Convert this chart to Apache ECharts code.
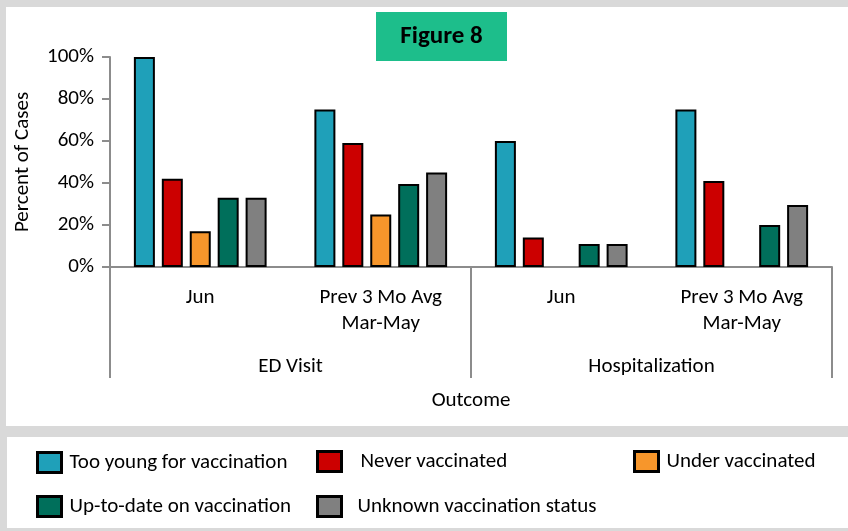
<!DOCTYPE html>
<html>
<head>
<meta charset="utf-8">
<script src="https://cdn.jsdelivr.net/npm/echarts@6/dist/echarts.min.js"></script>
<style>
  html, body { margin: 0; padding: 0; background: #d9d9d9; }
  #chart { width: 848px; height: 531px; }
</style>
</head>
<body>
<div id="chart"></div>
<script>
// 数据
const periods = ['Jun', 'Prev 3 Mo Avg\nMar-May', 'Jun', 'Prev 3 Mo Avg\nMar-May'];
const outcomes = ['ED Visit', 'Hospitalization'];
const tooYoung = [100, 75, 60, 75];
const never = [42, 59, 14, 41];
const under = [17, 25, null, null];
const upToDate = [33, 39.5, 11, 20];
const unknown = [33, 45, 11, 29.5];
const yTicks = [0, 20, 40, 60, 80, 100];

const font = "Carlito, 'Liberation Sans Narrow', Lato, sans-serif";
const axisGray = '#8c8c8c';

function bar(name, data, color) {
  return {
    name: name,
    type: 'bar',
    data: data,
    barWidth: 21,
    barGap: '33%',
    itemStyle: {color: color, borderColor: '#000', borderWidth: 2}
  };
}

function legendAt(name, left, top, textPad) {
  return {
    data: [name],
    left: left,
    top: top,
    padding: 0,
    icon: 'rect',
    itemWidth: 24,
    itemHeight: 20,
    selectedMode: false,
    textStyle: {fontFamily: font, fontSize: 21, color: '#000', padding: textPad || [0, 0, 0, 3]},
    itemStyle: {borderColor: '#000', borderWidth: 3}
  };
}

const option = {
  backgroundColor: '#d9d9d9',
  animation: false,
  graphic: [
    {type: 'rect', z: -10, shape: {x: 6, y: 7, width: 842, height: 419}, style: {fill: '#fff'}},
    {type: 'rect', z: -10, shape: {x: 7, y: 437, width: 841, height: 91}, style: {fill: '#fff'}},
    {type: 'rect', z: 5, shape: {x: 376, y: 12, width: 131, height: 49}, style: {fill: '#1dbe8b'}},
    {
      type: 'text', z: 6, x: 441.5, y: 37,
      style: {text: 'Figure 8', fontFamily: font, fontSize: 25, fontWeight: 'bold', fill: '#000',
        align: 'center', verticalAlign: 'middle'}
    }
  ],
  legend: [
    legendAt('Too young for vaccination', 36, 451),
    legendAt('Never vaccinated', 316, 450, [0, 0, 8, 14]),
    legendAt('Under vaccinated', 633, 450),
    legendAt('Up-to-date on vaccination', 36, 495),
    legendAt('Unknown vaccination status', 316, 495, [0, 0, 0, 11])
  ],
  grid: {left: 110, right: 16, top: 57, bottom: 264, containLabel: false},
  xAxis: [
    {
      type: 'category',
      data: periods,
      axisLine: {lineStyle: {color: axisGray, width: 2}},
      axisTick: {show: false},
      axisLabel: {fontFamily: font, fontSize: 21, color: '#000', margin: 18, lineHeight: 26}
    },
    {
      type: 'category',
      data: outcomes,
      position: 'bottom',
      axisLine: {show: false},
      axisTick: {show: true, length: 111, lineStyle: {color: axisGray, width: 2}},
      axisLabel: {fontFamily: font, fontSize: 21, color: '#000', margin: 89},
      name: 'Outcome',
      nameLocation: 'middle',
      nameGap: 123,
      nameTextStyle: {fontFamily: font, fontSize: 21, color: '#000'}
    }
  ],
  yAxis: {
    type: 'value',
    min: yTicks[0],
    max: yTicks[yTicks.length - 1],
    interval: 20,
    name: 'Percent of Cases',
    nameLocation: 'middle',
    nameGap: 77,
    nameTextStyle: {fontFamily: font, fontSize: 21, color: '#000'},
    axisLine: {show: true, lineStyle: {color: axisGray, width: 2}},
    axisTick: {show: true, length: 8, lineStyle: {color: axisGray, width: 2}},
    splitLine: {show: false},
    axisLabel: {fontFamily: font, fontSize: 21, color: '#000', margin: 16, formatter: '{value}%'}
  },
  series: [
    bar('Too young for vaccination', tooYoung, '#1fa0b9'),
    bar('Never vaccinated', never, '#cc0000'),
    bar('Under vaccinated', under, '#f7962b'),
    bar('Up-to-date on vaccination', upToDate, '#006f5b'),
    bar('Unknown vaccination status', unknown, '#808080')
  ]
};

const chart = echarts.init(document.getElementById('chart'));
chart.setOption(option);
window.addEventListener('resize', () => {
  chart.resize();
});
</script>
</body>
</html>
